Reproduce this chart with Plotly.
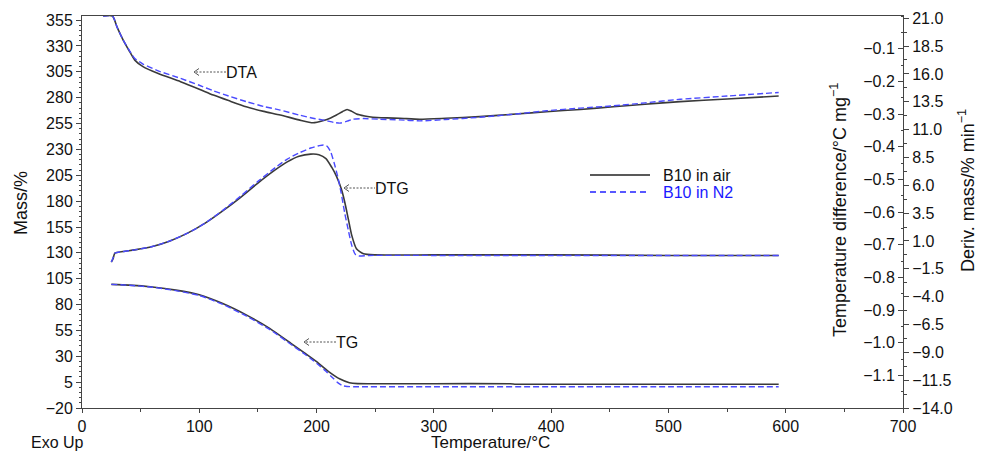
import plotly.graph_objects as go

# ---------------- data ----------------
# TG (mass, %) vs temperature (°C)
tg_air_t = [25, 40, 60, 80, 100, 120, 140, 160, 180, 190, 200, 210, 220, 228, 235, 250, 300, 365, 370, 400, 500, 594]
tg_air_m = [99.5, 98.8, 97.0, 94.0, 89.5, 81.0, 70.0, 57.0, 41.0, 33.0, 24.8, 15.5, 8.0, 4.5, 3.6, 3.5, 3.5, 3.4, 3.0, 3.0, 3.0, 3.0]
tg_n2_t = [25, 40, 60, 80, 100, 120, 140, 160, 180, 190, 197, 203, 208, 213, 218, 222, 226, 232, 300, 400, 500, 594]
tg_n2_m = [99.5, 98.7, 96.8, 93.5, 88.8, 80.2, 69.0, 56.0, 40.0, 32.0, 26.0, 20.5, 15.5, 10.0, 4.5, 1.6, 0.8, 0.6, 0.6, 0.6, 0.6, 0.6]

# DTG (deriv. mass, %/min)
dtg_air_t = [25, 26.5, 28, 35, 45, 60, 75, 90, 105, 120, 135, 150, 165, 175, 185, 195, 202, 208, 213, 217, 221, 224, 227, 230, 234, 240, 250, 300, 400, 500, 594]
dtg_air_d = [-0.9, -0.6, -0.1, 0.05, 0.2, 0.5, 1.0, 1.7, 2.6, 3.7, 4.9, 6.2, 7.4, 8.1, 8.6, 8.8, 8.75, 8.4, 7.6, 6.8, 5.7, 4.5, 3.0, 1.5, 0.3, -0.15, -0.25, -0.25, -0.25, -0.3, -0.3]
dtg_n2_t = [25, 26.5, 28, 35, 45, 60, 75, 90, 105, 120, 135, 150, 165, 175, 185, 195, 202, 206, 209, 212, 215, 218, 221, 224, 227, 230, 233, 236, 245, 300, 400, 500, 594]
dtg_n2_d = [-0.9, -0.5, -0.1, 0.05, 0.2, 0.5, 1.0, 1.7, 2.6, 3.75, 5.0, 6.35, 7.6, 8.35, 8.9, 9.35, 9.55, 9.62, 9.5, 9.0, 8.0, 6.8, 5.3, 3.5, 2.0, 0.6, -0.2, -0.35, -0.3, -0.3, -0.3, -0.3, -0.3]

# DTA (temperature difference, °C/mg)
dta_air_t = [18, 26, 30, 35, 40, 45, 52, 65, 84, 100, 112, 125, 140, 155, 169, 185, 197, 206, 212, 217, 222, 226, 230, 234, 241, 248, 260, 271, 288, 310, 339, 370, 396, 425, 453, 480, 510, 550, 594]
dta_air_v = [0.0, 0.0, -0.035, -0.073, -0.105, -0.135, -0.155, -0.176, -0.201, -0.224, -0.242, -0.259, -0.278, -0.292, -0.303, -0.318, -0.327, -0.32, -0.312, -0.303, -0.293, -0.286, -0.292, -0.30, -0.306, -0.310, -0.312, -0.313, -0.316, -0.313, -0.308, -0.300, -0.293, -0.286, -0.278, -0.270, -0.262, -0.254, -0.245]
dta_n2_t = [18, 26, 30, 35, 40, 45, 52, 65, 84, 100, 112, 125, 140, 155, 169, 185, 197, 205, 209, 215, 220, 226, 231, 240, 254, 271, 288, 310, 339, 370, 396, 425, 453, 480, 510, 550, 594]
dta_n2_v = [0.0, 0.0, -0.035, -0.073, -0.103, -0.130, -0.147, -0.168, -0.191, -0.212, -0.229, -0.245, -0.262, -0.277, -0.288, -0.303, -0.313, -0.318, -0.321, -0.326, -0.328, -0.322, -0.316, -0.314, -0.316, -0.318, -0.321, -0.317, -0.310, -0.300, -0.290, -0.282, -0.275, -0.266, -0.255, -0.245, -0.234]

mass_ticks = [-20, 5, 30, 55, 80, 105, 130, 155, 180, 205, 230, 255, 280, 305, 330, 355]
td_ticks = [-0.1, -0.2, -0.3, -0.4, -0.5, -0.6, -0.7, -0.8, -0.9, -1.0, -1.1]
deriv_ticks = [21.0, 18.5, 16.0, 13.5, 11.0, 8.5, 6.0, 3.5, 1.0, -1.5, -4.0, -6.5, -9.0, -11.5, -14.0]
x_ticks = [0, 100, 200, 300, 400, 500, 600, 700]

# ---------------- styling ----------------
AIR = "#3a3a3a"
N2 = "#4a4aff"
AX = "#444444"
FONT = "Liberation Sans, Arial, Helvetica, sans-serif"
TXT = "#111111"

W, H = 981, 452
ML, MR, MT, MB = 82, 78, 16, 44
PW, PH = W - ML - MR, H - MT - MB


def px(xp):
    return (xp - ML) / PW


def py(yp):
    return (H - MB - yp) / PH


fig = go.Figure()


def add_pair(t1, v1, t2, v2, yax):
    fig.add_trace(go.Scatter(x=t1, y=v1, mode="lines", yaxis=yax, name="B10 in air",
                             line=dict(color=AIR, width=1.6, shape="spline", smoothing=0.6),
                             showlegend=False))
    fig.add_trace(go.Scatter(x=t2, y=v2, mode="lines", yaxis=yax, name="B10 in N2",
                             line=dict(color=N2, width=1.4, dash="6px,3px", shape="spline", smoothing=0.6),
                             showlegend=False))


add_pair(tg_air_t, tg_air_m, tg_n2_t, tg_n2_m, "y")
add_pair(dtg_air_t, dtg_air_d, dtg_n2_t, dtg_n2_d, "y3")
add_pair(dta_air_t, dta_air_v, dta_n2_t, dta_n2_v, "y2")

shapes = []
annotations = []

# curve labels with dotted arrows
for tip_x, tip_y, txt_x, label in [(194, 72, 226, "DTA"), (344, 188, 375, "DTG"), (304, 342, 336, "TG")]:
    shapes.append(dict(type="path", xref="paper", yref="paper",
                       path=f"M {px(tip_x+5)} {py(tip_y-3.5)} L {px(tip_x)} {py(tip_y)} L {px(tip_x+5)} {py(tip_y+3.5)}",
                       line=dict(color="#555555", width=1)))
    shapes.append(dict(type="line", xref="paper", yref="paper",
                       x0=px(tip_x + 2), y0=py(tip_y), x1=px(txt_x), y1=py(tip_y),
                       line=dict(color="#555555", width=1, dash="2px,1.5px")))
    annotations.append(dict(xref="paper", yref="paper", x=px(txt_x), y=py(tip_y), text=label,
                            showarrow=False, xanchor="left", yanchor="middle", xshift=-2,
                            font=dict(size=16, color=TXT, family=FONT)))

# legend (drawn manually)
shapes.append(dict(type="line", xref="paper", yref="paper", x0=px(590), x1=px(650), y0=py(175), y1=py(175),
                   line=dict(color="#222222", width=1.6)))
shapes.append(dict(type="line", xref="paper", yref="paper", x0=px(590), x1=px(650), y0=py(192), y1=py(192),
                   line=dict(color="#2222ff", width=1.4, dash="6px,4px")))
annotations.append(dict(xref="paper", yref="paper", x=px(661), y=py(175), text="B10 in air", showarrow=False,
                        xanchor="left", yanchor="middle", font=dict(size=16, color=TXT, family=FONT)))
annotations.append(dict(xref="paper", yref="paper", x=px(661), y=py(192), text="B10 in N2", showarrow=False,
                        xanchor="left", yanchor="middle", font=dict(size=16, color="#1a1aff", family=FONT)))

# axis titles and misc texts
annotations.append(dict(xref="paper", yref="paper", x=px(57), y=py(442), text="Exo Up", showarrow=False,
                        xanchor="center", yanchor="middle", font=dict(size=16, color=TXT, family=FONT)))
annotations.append(dict(xref="paper", yref="paper", x=px(490), y=py(442), text="Temperature/°C", showarrow=False,
                        xanchor="center", yanchor="middle", font=dict(size=17, color=TXT, family=FONT)))
annotations.append(dict(xref="paper", yref="paper", x=px(21), y=py(203), text="Mass/%", showarrow=False,
                        textangle=-90, xanchor="center", yanchor="middle", font=dict(size=18, color=TXT, family=FONT)))
annotations.append(dict(xref="paper", yref="paper", x=px(838), y=py(210), text="Temperature difference/°C mg<sup>−1</sup>",
                        showarrow=False, textangle=-90, xanchor="center", yanchor="middle",
                        font=dict(size=18, color=TXT, family=FONT)))
annotations.append(dict(xref="paper", yref="paper", x=px(966), y=py(190), text="Deriv. mass/% min<sup>−1</sup>",
                        showarrow=False, textangle=-90, xanchor="center", yanchor="middle",
                        font=dict(size=18, color=TXT, family=FONT)))

tickfont = dict(size=16, color=TXT, family=FONT)

fig.update_layout(
    width=W, height=H,
    margin=dict(l=ML, r=MR, t=MT, b=MB, autoexpand=False),
    plot_bgcolor="white", paper_bgcolor="white",
    font=dict(family=FONT, size=16, color=TXT),
    showlegend=False,
    shapes=shapes, annotations=annotations,
    xaxis=dict(range=[0, 700], tickvals=x_ticks, showgrid=False, zeroline=False, automargin=False,
               showline=True, linecolor=AX, linewidth=1, mirror=True,
               ticks="outside", ticklen=4, tickcolor=AX, tickfont=tickfont,
               minor=dict(dtick=50, ticks="outside", ticklen=3, tickcolor=AX)),
    yaxis=dict(range=[-20, 359], tickvals=mass_ticks, showgrid=False, zeroline=False, automargin=False,
               showline=True, linecolor=AX, linewidth=1, mirror=True,
               ticks="outside", ticklen=5, tickcolor=AX, tickfont=tickfont,
               minor=dict(tick0=-20, dtick=5, ticks="outside", ticklen=2, tickcolor=AX)),
    yaxis2=dict(range=[-1.2, 0.0], tickvals=td_ticks, tickformat=".1f", overlaying="y",
                anchor="free", position=1.0, side="left", showgrid=False, zeroline=False, automargin=False,
                showline=True, linecolor=AX, linewidth=1,
                ticks="outside", ticklen=5, tickcolor=AX, tickfont=tickfont,
                minor=dict(tick0=0, dtick=0.05, ticks="outside", ticklen=2, tickcolor=AX)),
    yaxis3=dict(range=[-14, 21.2], tickvals=deriv_ticks, tickformat=".1f", overlaying="y",
                anchor="x", side="right", showgrid=False, zeroline=False, automargin=False,
                showline=True, linecolor=AX, linewidth=1,
                ticks="outside", ticklen=5, tickcolor=AX, tickfont=tickfont,
                minor=dict(tick0=-14, dtick=1.25, ticks="outside", ticklen=3, tickcolor=AX)),
)

fig.write_html("out.html", config={"displayModeBar": False},
               post_script="document.body.style.margin='0';document.body.style.overflow='hidden';")
